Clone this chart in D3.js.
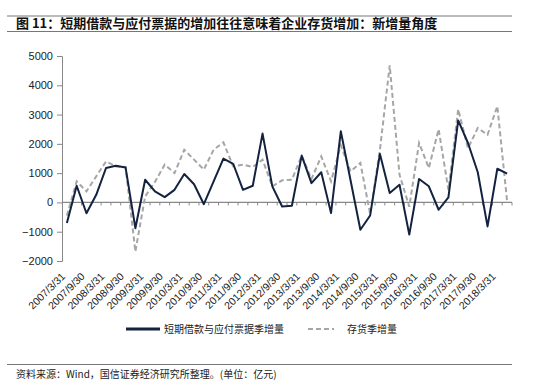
<!DOCTYPE html>
<html>
<head>
<meta charset="utf-8">
<script src="https://cdn.jsdelivr.net/npm/d3@7"></script>
<style>
  body { margin: 0; background: #fff; }
  svg { display: block; }
</style>
</head>
<body>
<div id="chart"></div>
<script>
const quarters = [
  "2007/3/31", "2007/6/30", "2007/9/30", "2007/12/31",
  "2008/3/31", "2008/6/30", "2008/9/30", "2008/12/31",
  "2009/3/31", "2009/6/30", "2009/9/30", "2009/12/31",
  "2010/3/31", "2010/6/30", "2010/9/30", "2010/12/31",
  "2011/3/31", "2011/6/30", "2011/9/30", "2011/12/31",
  "2012/3/31", "2012/6/30", "2012/9/30", "2012/12/31",
  "2013/3/31", "2013/6/30", "2013/9/30", "2013/12/31",
  "2014/3/31", "2014/6/30", "2014/9/30", "2014/12/31",
  "2015/3/31", "2015/6/30", "2015/9/30", "2015/12/31",
  "2016/3/31", "2016/6/30", "2016/9/30", "2016/12/31",
  "2017/3/31", "2017/6/30", "2017/9/30", "2017/12/31",
  "2018/3/31", "2018/6/30"
];

// 短期借款与应付票据季增量
const loans = [
  -700, 570, -370, 260, 1175, 1250, 1190, -880, 775, 380,
  180, 430, 970, 620, -60, 720, 1495, 1320, 430, 570,
  2350, 550, -140, -115, 1600, 660, 1030, -365, 2430, 750,
  -935, -445, 1655, 320, 605, -1100, 800, 550, -250, 170,
  2800, 2030, 1030, -820, 1150, 980
];

// 存货季增量
const inventory = [
  -450, 720, 380, 890, 1400, 1230, 1210, -1680, 205, 700,
  1290, 1000, 1800, 1460, 1120, 1800, 2050, 1230, 1290, 1210,
  1460, 550, 755, 775, 1600, 800, 1570, 720, 1950, 1060,
  1350, -400, 1800, 4680, 950, -150, 2030, 1175, 2500, 430,
  3180, 1850, 2540, 2310, 3290, 40
];

const yTicks = [-2000, -1000, 0, 1000, 2000, 3000, 4000, 5000];

const width = 550, height = 385;
const svg = d3.select("#chart").append("svg")
  .attr("width", width)
  .attr("height", height)
  .style("font-family", "Arial, 'Liberation Sans', sans-serif");

const cjk = "'Noto Sans CJK SC', 'Noto Sans', sans-serif";

// header
svg.append("line").attr("x1", 7).attr("x2", 512).attr("y1", 16).attr("y2", 16)
  .attr("stroke", "#777").attr("stroke-width", 1);
svg.append("line").attr("x1", 7).attr("x2", 512).attr("y1", 31.5).attr("y2", 31.5)
  .attr("stroke", "#777").attr("stroke-width", 1);
svg.append("text")
  .attr("x", 16).attr("y", 28)
  .style("font-family", cjk)
  .style("font-size", "13px")
  .style("font-weight", "bold")
  .attr("fill", "#111")
  .text("图 11：短期借款与应付票据的增加往往意味着企业存货增加：新增量角度");

// scales
const x = d3.scaleBand().domain(quarters).range([62, 512]).padding(0);
const y = d3.scaleLinear().domain([-2000, 5000]).range([261, 56]);
const cx = d => x(d) + x.bandwidth() / 2;

// y axis
const yAxis = svg.append("g")
  .attr("transform", "translate(62,0)")
  .call(d3.axisLeft(y).tickValues(yTicks).tickSize(5).tickPadding(4).tickFormat(d3.format("d")));
yAxis.select(".domain").attr("stroke", "#888");
yAxis.selectAll(".tick line").attr("stroke", "#888");
yAxis.selectAll(".tick text")
  .style("font-size", "11px")
  .style("font-family", "Arial, 'Liberation Sans', sans-serif")
  .attr("fill", "#222");

// zero line with quarter ticks
const zero = svg.append("g");
zero.append("line")
  .attr("x1", 62).attr("x2", 512)
  .attr("y1", y(0)).attr("y2", y(0))
  .attr("stroke", "#888").attr("stroke-width", 1.2);
zero.selectAll("line.qt")
  .data(quarters.slice(1))
  .join("line")
  .attr("class", "qt")
  .attr("x1", d => x(d)).attr("x2", d => x(d))
  .attr("y1", y(0)).attr("y2", y(0) + 3)
  .attr("stroke", "#888");
zero.append("line")
  .attr("x1", 512).attr("x2", 512)
  .attr("y1", y(0)).attr("y2", y(0) + 3)
  .attr("stroke", "#888");

// x labels (every half year)
svg.append("g")
  .selectAll("text")
  .data(quarters.filter((d, i) => i % 2 === 0))
  .join("text")
  .attr("transform", d => `translate(${cx(d) - 1},${y(-2000) + 16}) rotate(-45)`)
  .attr("text-anchor", "end")
  .style("font-size", "10.5px")
  .attr("fill", "#222")
  .text(d => d);

// lines
const line = d3.line()
  .x((d, i) => cx(quarters[i]))
  .y(d => y(d));

svg.append("path")
  .datum(inventory)
  .attr("fill", "none")
  .attr("stroke", "#a6a6a6")
  .attr("stroke-width", 2)
  .attr("stroke-dasharray", "5,3")
  .attr("d", line);

svg.append("path")
  .datum(loans)
  .attr("fill", "none")
  .attr("stroke", "#13233f")
  .attr("stroke-width", 2)
  .attr("stroke-linejoin", "round")
  .attr("d", line);

// legend
const lg = svg.append("g");
lg.append("line").attr("x1", 126).attr("x2", 160).attr("y1", 329).attr("y2", 329)
  .attr("stroke", "#13233f").attr("stroke-width", 3);
lg.append("text").attr("x", 164).attr("y", 332.5)
  .style("font-family", cjk).style("font-size", "10px").attr("fill", "#222")
  .text("短期借款与应付票据季增量");
lg.append("line").attr("x1", 308).attr("x2", 334).attr("y1", 329).attr("y2", 329)
  .attr("stroke", "#a6a6a6").attr("stroke-width", 2).attr("stroke-dasharray", "5,3");
lg.append("text").attr("x", 347).attr("y", 332.5)
  .style("font-family", cjk).style("font-size", "10px").attr("fill", "#222")
  .text("存货季增量");

// footer
svg.append("line").attr("x1", 7).attr("x2", 512).attr("y1", 364.5).attr("y2", 364.5)
  .attr("stroke", "#777").attr("stroke-width", 1);
svg.append("text").attr("x", 16).attr("y", 378)
  .style("font-family", cjk).style("font-size", "10px").attr("fill", "#222")
  .text("资料来源：Wind，国信证券经济研究所整理。(单位：亿元)");
</script>
</body>
</html>
